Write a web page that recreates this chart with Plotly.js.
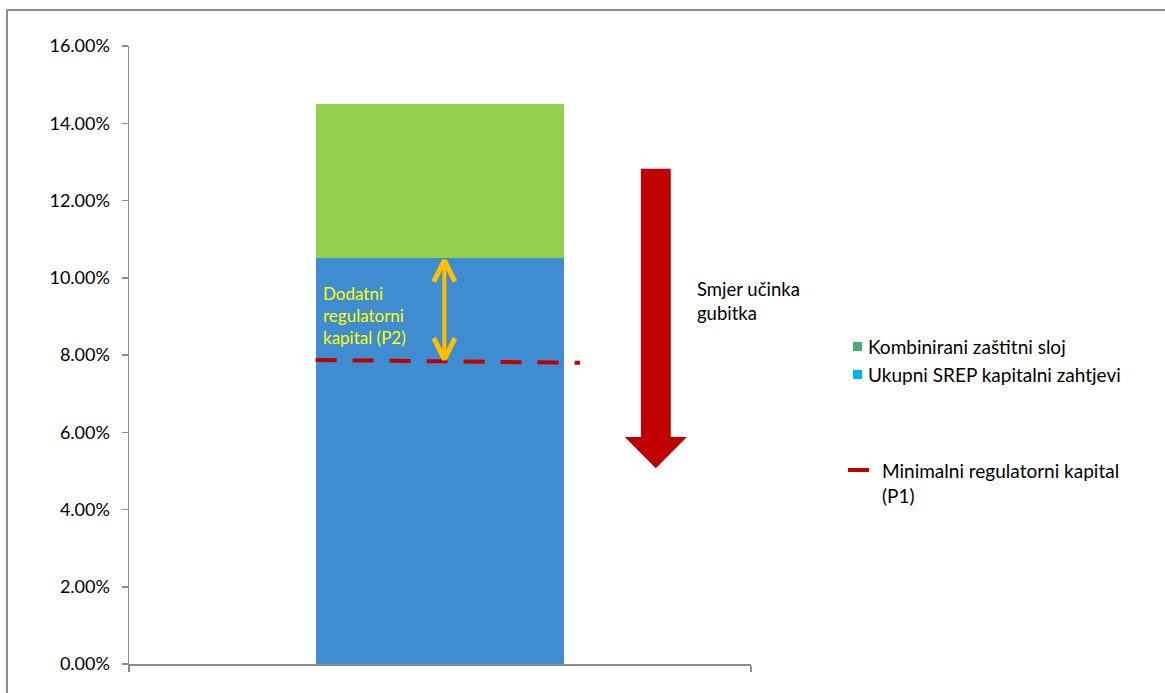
<!DOCTYPE html>
<html>
<head>
<meta charset="utf-8">
<script src="https://cdn.plot.ly/plotly-3.0.1.min.js"></script>
<style>
html,body{margin:0;padding:0;background:#fff;}
#chart{width:1165px;height:693px;}
</style>
</head>
<body>
<div id="chart"></div>
<script>
// ---- data ----
const seriesNames = ["Ukupni SREP kapitalni zahtjevi", "Kombinirani zaštitni sloj"];
const srepValue = [10.5];       // blue segment (%)
const bufferValue = [4.0];      // green segment on top (%)
const p1Level = [7.87, 7.80];   // dashed minimum regulatory capital line (%)
const lossArrowTop = 12.82;     // red arrow start (%)
const lossArrowHeadBase = 5.88; // red arrow head base (%)
const lossArrowTip = 5.07;      // red arrow tip (%)
const yTicks = [0, 2, 4, 6, 8, 10, 12, 14, 16];
const yTickText = yTicks.map(v => v.toFixed(2) + "%");

// ---- layout constants ----
const W = 1165, H = 693;
const M = {l: 129, r: 414, t: 46, b: 29};
const PW = W - M.l - M.r, PH = H - M.t - M.b;
const px = x => (x - M.l) / PW;           // pixel -> paper x
const py = y => (H - M.b - y) / PH;       // pixel -> paper y
const FONT = "Lato, 'Open Sans', sans-serif";

const blue = "#3F8CD0", green = "#92D050", red = "#C00000", orange = "#FFC000";

const traces = [
  {type: "bar", x: [0], y: srepValue, width: 0.4, marker: {color: blue}, name: seriesNames[0], showlegend: false, hoverinfo: "skip"},
  {type: "bar", x: [0], y: bufferValue, width: 0.4, marker: {color: green}, name: seriesNames[1], showlegend: false, hoverinfo: "skip"},
  {type: "scatter", mode: "lines", x: [-0.2, 0.225], y: p1Level, line: {color: red, width: 4, dash: "21px,16px"}, showlegend: false, hoverinfo: "skip"},
];

// orange double arrow between P1 line and SREP top
const ax = 0.007, armDx = 0.017, armDy = 0.55;
const yTopA = srepValue[0] - 0.05, yBotA = (p1Level[0] + p1Level[1]) / 2 + 0.05;
traces.push({type: "scatter", mode: "lines", x: [ax, ax], y: [yTopA, yBotA], line: {color: orange, width: 4}, showlegend: false, hoverinfo: "skip"});
traces.push({type: "scatter", mode: "lines", x: [ax - armDx, ax, ax + armDx], y: [yTopA - armDy, yTopA, yTopA - armDy], line: {color: orange, width: 5}, showlegend: false, hoverinfo: "skip"});
traces.push({type: "scatter", mode: "lines", x: [ax - armDx, ax, ax + armDx], y: [yBotA + armDy, yBotA, yBotA + armDy], line: {color: orange, width: 5}, showlegend: false, hoverinfo: "skip"});

const shapes = [
  // outer chart frame
  {type: "path", xref: "paper", yref: "paper",
   path: `M ${px(7)} ${py(700)} L ${px(7)} ${py(10)} L ${px(1166)} ${py(10)}`,
   line: {color: "#8c8c8c", width: 2}},
  // red loss arrow
  {type: "path", xref: "x", yref: "y", fillcolor: red, line: {width: 0},
   path: `M 0.323 ${lossArrowTop} L 0.371 ${lossArrowTop} L 0.371 ${lossArrowHeadBase} L 0.397 ${lossArrowHeadBase} L 0.347 ${lossArrowTip} L 0.297 ${lossArrowHeadBase} L 0.323 ${lossArrowHeadBase} Z`},
  // legend keys
  {type: "rect", xref: "paper", yref: "paper", x0: px(853), x1: px(862), y0: py(351), y1: py(342), fillcolor: "#4BAC70", line: {width: 0}},
  {type: "rect", xref: "paper", yref: "paper", x0: px(853), x1: px(862), y0: py(379), y1: py(370), fillcolor: "#00B0F0", line: {width: 0}},
  {type: "line", xref: "paper", yref: "paper", x0: px(848), x1: px(869), y0: py(470), y1: py(470), line: {color: red, width: 4}},
];

const ann = (x, y, text, size, color) => ({
  xref: "paper", yref: "paper", x: px(x), y: py(y), text, showarrow: false,
  xanchor: "left", yanchor: "middle", align: "left",
  font: {family: FONT, size: size, color: color || "#000"}
});

const annotations = [
  ann(321, 315, "Dodatni<br>regulatorni<br>kapital (P2)", 17, "#FFFF00"),
  ann(695, 301, "Smjer učinka<br>gubitka", 18.5),
  ann(866, 346, "Kombinirani zaštitni sloj", 19),
  ann(866, 374, "Ukupni SREP kapitalni zahtjevi", 19),
  ann(880, 483, "Minimalni regulatorni kapital<br>(P1)", 19),
];

const layout = {
  width: W, height: H,
  margin: M,
  paper_bgcolor: "#fff", plot_bgcolor: "#fff",
  barmode: "stack",
  showlegend: false,
  font: {family: FONT, size: 18, color: "#000"},
  xaxis: {
    range: [-0.5, 0.5], fixedrange: true, showgrid: false, zeroline: false,
    showline: true, linecolor: "#8c8c8c", linewidth: 1.5,
    tickmode: "array", tickvals: [-0.5, 0.5], showticklabels: false,
    ticks: "outside", ticklen: 6, tickcolor: "#8c8c8c", tickwidth: 1.5
  },
  yaxis: {
    range: [0, 16], fixedrange: true, showgrid: false, zeroline: false,
    showline: true, linecolor: "#8c8c8c", linewidth: 1.5,
    tickmode: "array", tickvals: yTicks, ticktext: yTickText,
    ticks: "outside", ticklen: 6, tickcolor: "#8c8c8c", tickwidth: 1.5,
    ticklabelstandoff: 8,
    tickfont: {family: FONT, size: 18, color: "#000"}
  },
  shapes, annotations
};

Plotly.newPlot("chart", traces, layout, {staticPlot: true, displayModeBar: false});
</script>
</body>
</html>
